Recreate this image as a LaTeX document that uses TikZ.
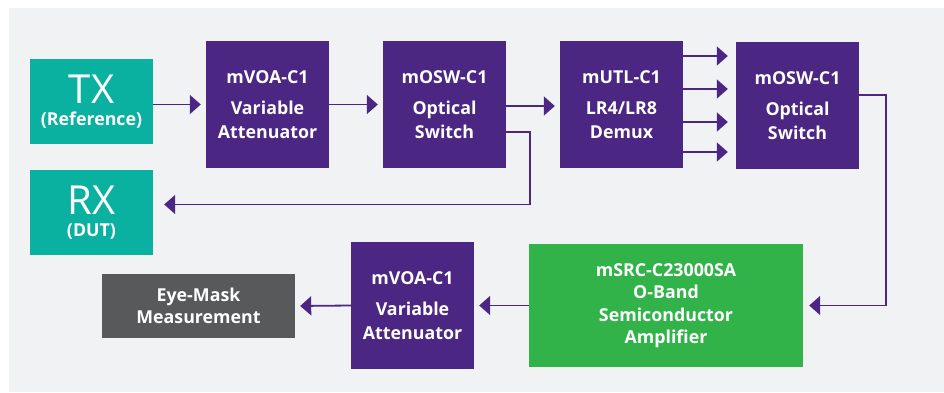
\documentclass[tikz,border=0pt]{standalone}
\usepackage{fontspec}
\setmainfont{Open Sans}
\usetikzlibrary{arrows.meta}
\definecolor{bgc}{HTML}{F1F2F4}
\definecolor{purp}{HTML}{4B2682}
\definecolor{teal}{HTML}{0AB1A1}
\definecolor{grn}{HTML}{32B34A}
\definecolor{dgray}{HTML}{58595B}
\tikzset{
  blk/.style={fill=#1, text=white, inner sep=0pt, align=center, font=\fontsize{17.8}{24}\selectfont\bfseries},
  mod/.style={blk=purp, minimum width=123pt, minimum height=127pt},
  conn/.style={draw=purp, line width=1.8pt, -{Triangle[length=11pt,width=19pt]}, shorten >=5pt},
}
\begin{document}
\begin{tikzpicture}[x=1pt,y=-1pt]
\useasboundingbox (0,0) rectangle (944,392);
\fill[bgc] (9,8) rectangle (944,392);
\node[blk=teal, minimum width=123pt, minimum height=85pt, font=\fontsize{17.8}{22}\selectfont\bfseries] (tx) at (91.5,101.5) {{\fontsize{40}{40}\selectfont\mdseries TX}\\(Reference)};
\node[blk=teal, minimum width=123pt, minimum height=85pt, font=\fontsize{17.8}{22}\selectfont\bfseries] (rx) at (91.5,212.5) {{\fontsize{40}{40}\selectfont\mdseries RX}\\(DUT)};
\node[mod] (voa1) at (267.5,104.5) {mVOA-C1\\[7pt]Variable\\Attenuator};
\node[mod] (osw1) at (444.5,104.5) {mOSW-C1\\[7pt]Optical\\Switch};
\node[mod] (utl) at (621.5,104.5) {mUTL-C1\\[7pt]LR4/LR8\\Demux};
\node[mod] (osw2) at (797.5,105.5) {mOSW-C1\\[7pt]Optical\\Switch};
\node[blk=grn, minimum width=274pt, minimum height=123pt, font=\fontsize{17.8}{22.5}\selectfont\bfseries] (soa) at (666,305.5) {mSRC-C23000SA\\O-Band\\Semiconductor\\Amplifier};
\node[mod] (voa2) at (412.5,305.5) {mVOA-C1\\[7pt]Variable\\Attenuator};
\node[blk=dgray, minimum width=193pt, minimum height=64pt, font=\fontsize{17.8}{22}\selectfont\bfseries] (eye) at (198.5,306) {Eye-Mask\\Measurement};
\draw[conn] (tx.east |- voa1.west) -- (voa1.west);
\draw[conn] (voa1.east) -- (osw1.west);
\draw[conn] ([yshift=-1.5pt]osw1.east) -- ([yshift=-1.5pt]utl.west);
\draw[conn, shorten >=11pt] ([yshift=-27.5pt]osw1.east) -- ++(24,0) |- ([yshift=8pt]rx.east);
\foreach \d in {48.5,15.5,-17.5,-47.5}
  \draw[conn, shorten >=8pt] ([yshift=\d pt]utl.east) -- ([yshift=\d pt]utl.east -| osw2.west);
\draw[conn, shorten >=6pt] ([yshift=10.5pt]osw2.east) -- ++(27,0) |- (soa.east);
\draw[conn] (soa.west) -- (voa2.east);
\draw[conn] (voa2.west) -- (eye.east);
\end{tikzpicture}
\end{document}
